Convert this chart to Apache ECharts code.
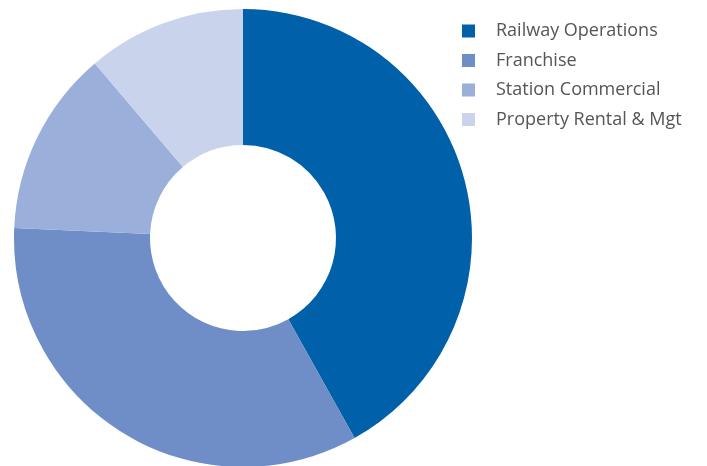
<!DOCTYPE html>
<html><head><meta charset="utf-8">
<script src="https://cdn.jsdelivr.net/npm/echarts@6/dist/echarts.min.js"></script>
<style>html,body{margin:0;padding:0;background:#fff}#c{width:707px;height:466px}</style>
</head><body><div id="c"></div>
<script>
const categories = ["Railway Operations", "Franchise", "Station Commercial", "Property Rental & Mgt"];
const values = [41.9, 33.8, 13.1, 11.2];
const colors = ["#0060aa", "#6f8dc6", "#9aafd9", "#c9d3eb"];
const chart = echarts.init(document.getElementById('c'));
chart.setOption({
  animation: false,
  color: colors,
  legend: {
    orient: 'vertical', left: 462, top: 22, padding: 0,
    itemWidth: 13, itemHeight: 13, itemGap: 11.5, icon: 'rect',
    textStyle: { fontFamily: 'Open Sans', fontSize: 18, lineHeight: 18, color: '#555', padding: [0,0,0,16] },
    data: categories
  },
  series: [{
    type: 'pie', center: [243, 238], radius: [93, 229],
    startAngle: 90, clockwise: true,
    label: { show: false }, labelLine: { show: false },
    itemStyle: { borderWidth: 0 },
    data: categories.map((n, i) => ({ name: n, value: values[i] }))
  }]
});
</script></body></html>
